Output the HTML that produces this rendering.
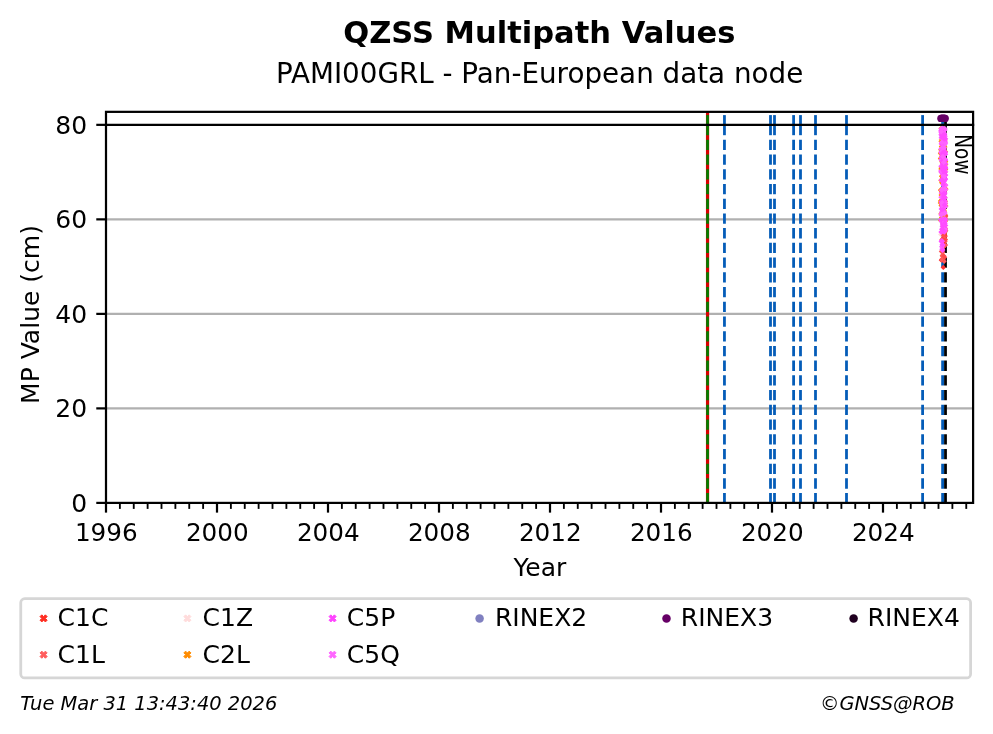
<!DOCTYPE html>
<html lang="en"><head><meta charset="utf-8"><title>QZSS Multipath Values</title>
<style>html,body{margin:0;padding:0;background:#fff}body{width:993px;height:734px;overflow:hidden}svg{display:block}text{font-family:"DejaVu Sans","Liberation Sans",sans-serif;fill:#000}</style>
</head><body>
<svg width="993" height="734" viewBox="0 0 993 734">
<rect width="993" height="734" fill="#fff"/>
<text x="539.3" y="42.8" font-size="30.56" font-weight="bold" text-anchor="middle">QZSS Multipath Values</text>
<text x="539.6" y="82.9" font-size="27.78" text-anchor="middle">PAMI00GRL - Pan-European data node</text>
<line x1="106.0" x2="973.1" y1="408.39" y2="408.39" stroke="#b0b0b0" stroke-width="2.22"/>
<line x1="106.0" x2="973.1" y1="313.88" y2="313.88" stroke="#b0b0b0" stroke-width="2.22"/>
<line x1="106.0" x2="973.1" y1="219.36" y2="219.36" stroke="#b0b0b0" stroke-width="2.22"/>
<line x1="707.55" x2="707.55" y1="111.85" y2="502.9" stroke="#d80000" stroke-width="3.2"/>
<line x1="707.55" x2="707.55" y1="115.1" y2="135.2" stroke="#008000" stroke-width="2.7"/>
<line x1="707.55" x2="707.55" y1="139.8" y2="502.9" stroke="#008000" stroke-width="2.7" stroke-dasharray="10.28 4.44"/>
<line x1="724.45" x2="724.45" y1="115.1" y2="135.2" stroke="#045cb8" stroke-width="2.78"/>
<line x1="724.45" x2="724.45" y1="139.8" y2="502.9" stroke="#045cb8" stroke-width="2.78" stroke-dasharray="10.28 4.44"/>
<line x1="770.5" x2="770.5" y1="115.1" y2="135.2" stroke="#045cb8" stroke-width="2.78"/>
<line x1="770.5" x2="770.5" y1="139.8" y2="502.9" stroke="#045cb8" stroke-width="2.78" stroke-dasharray="10.28 4.44"/>
<line x1="774.5" x2="774.5" y1="115.1" y2="135.2" stroke="#045cb8" stroke-width="2.78"/>
<line x1="774.5" x2="774.5" y1="139.8" y2="502.9" stroke="#045cb8" stroke-width="2.78" stroke-dasharray="10.28 4.44"/>
<line x1="793.6" x2="793.6" y1="115.1" y2="135.2" stroke="#045cb8" stroke-width="2.78"/>
<line x1="793.6" x2="793.6" y1="139.8" y2="502.9" stroke="#045cb8" stroke-width="2.78" stroke-dasharray="10.28 4.44"/>
<line x1="800.5" x2="800.5" y1="115.1" y2="135.2" stroke="#045cb8" stroke-width="2.78"/>
<line x1="800.5" x2="800.5" y1="139.8" y2="502.9" stroke="#045cb8" stroke-width="2.78" stroke-dasharray="10.28 4.44"/>
<line x1="815.5" x2="815.5" y1="115.1" y2="135.2" stroke="#045cb8" stroke-width="2.78"/>
<line x1="815.5" x2="815.5" y1="139.8" y2="502.9" stroke="#045cb8" stroke-width="2.78" stroke-dasharray="10.28 4.44"/>
<line x1="846.5" x2="846.5" y1="115.1" y2="135.2" stroke="#045cb8" stroke-width="2.78"/>
<line x1="846.5" x2="846.5" y1="139.8" y2="502.9" stroke="#045cb8" stroke-width="2.78" stroke-dasharray="10.28 4.44"/>
<line x1="922.6" x2="922.6" y1="115.1" y2="135.2" stroke="#045cb8" stroke-width="2.78"/>
<line x1="922.6" x2="922.6" y1="139.8" y2="502.9" stroke="#045cb8" stroke-width="2.78" stroke-dasharray="10.28 4.44"/>
<line x1="942.6" x2="942.6" y1="115.1" y2="135.2" stroke="#045cb8" stroke-width="2.78"/>
<line x1="942.6" x2="942.6" y1="139.8" y2="502.9" stroke="#045cb8" stroke-width="2.78" stroke-dasharray="10.28 4.44"/>
<line x1="945.5" x2="945.5" y1="115.1" y2="135.2" stroke="#000" stroke-width="2.78"/>
<line x1="945.5" x2="945.5" y1="139.8" y2="502.9" stroke="#000" stroke-width="2.78" stroke-dasharray="10.28 4.44"/>
<line x1="106.0" x2="974.2" y1="124.85" y2="124.85" stroke="#000" stroke-width="2.22"/>
<path d="M944.84 236.58l2.65 2.65-2.65 2.65-2.65-2.65z" fill="#ffdcdc"/>
<path d="M942.93 179.54l2.65 2.65-2.65 2.65-2.65-2.65z" fill="#ffdcdc"/>
<path d="M941.03 136.80l2.65 2.65-2.65 2.65-2.65-2.65z" fill="#ffdcdc"/>
<path d="M942.31 155.00l2.65 2.65-2.65 2.65-2.65-2.65z" fill="#ffdcdc"/>
<path d="M944.74 143.43l2.65 2.65-2.65 2.65-2.65-2.65z" fill="#ffdcdc"/>
<path d="M940.72 231.86l2.65 2.65-2.65 2.65-2.65-2.65z" fill="#ffdcdc"/>
<path d="M943.24 141.77l2.65 2.65-2.65 2.65-2.65-2.65z" fill="#ffdcdc"/>
<path d="M943.32 128.38l2.65 2.65-2.65 2.65-2.65-2.65z" fill="#ffdcdc"/>
<path d="M943.24 234.94l2.65 2.65-2.65 2.65-2.65-2.65z" fill="#ffdcdc"/>
<path d="M944.92 203.32l2.65 2.65-2.65 2.65-2.65-2.65z" fill="#ffdcdc"/>
<path d="M943.45 226.89l2.65 2.65-2.65 2.65-2.65-2.65z" fill="#ff4a4a"/>
<path d="M945.46 213.67l2.65 2.65-2.65 2.65-2.65-2.65z" fill="#ff3535"/>
<path d="M943.17 228.90l2.65 2.65-2.65 2.65-2.65-2.65z" fill="#ff4a4a"/>
<path d="M943.26 221.66l2.65 2.65-2.65 2.65-2.65-2.65z" fill="#ff5a5a"/>
<path d="M943.27 214.70l2.65 2.65-2.65 2.65-2.65-2.65z" fill="#ff5a5a"/>
<path d="M944.70 214.19l2.65 2.65-2.65 2.65-2.65-2.65z" fill="#ff3535"/>
<path d="M943.68 241.62l2.65 2.65-2.65 2.65-2.65-2.65z" fill="#ff3535"/>
<path d="M942.82 239.05l2.65 2.65-2.65 2.65-2.65-2.65z" fill="#ff3535"/>
<path d="M945.58 213.59l2.65 2.65-2.65 2.65-2.65-2.65z" fill="#ff5a5a"/>
<path d="M944.62 231.47l2.65 2.65-2.65 2.65-2.65-2.65z" fill="#ff4a4a"/>
<path d="M945.45 226.16l2.65 2.65-2.65 2.65-2.65-2.65z" fill="#ff3535"/>
<path d="M944.71 216.30l2.65 2.65-2.65 2.65-2.65-2.65z" fill="#ff3535"/>
<path d="M944.64 229.23l2.65 2.65-2.65 2.65-2.65-2.65z" fill="#ff3535"/>
<path d="M943.85 238.44l2.65 2.65-2.65 2.65-2.65-2.65z" fill="#ff5a5a"/>
<path d="M942.97 244.01l2.65 2.65-2.65 2.65-2.65-2.65z" fill="#ff5a5a"/>
<path d="M945.25 233.70l2.65 2.65-2.65 2.65-2.65-2.65z" fill="#ff5a5a"/>
<path d="M945.38 225.74l2.65 2.65-2.65 2.65-2.65-2.65z" fill="#ff4a4a"/>
<path d="M941.38 248.78l2.65 2.65-2.65 2.65-2.65-2.65z" fill="#ff5a5a"/>
<path d="M945.03 236.56l2.65 2.65-2.65 2.65-2.65-2.65z" fill="#ff4a4a"/>
<path d="M944.83 232.89l2.65 2.65-2.65 2.65-2.65-2.65z" fill="#ff3535"/>
<path d="M944.25 217.02l2.65 2.65-2.65 2.65-2.65-2.65z" fill="#ff5a5a"/>
<path d="M944.47 218.65l2.65 2.65-2.65 2.65-2.65-2.65z" fill="#ff3535"/>
<path d="M941.36 257.53l2.65 2.65-2.65 2.65-2.65-2.65z" fill="#ff4a4a"/>
<path d="M945.03 238.86l2.65 2.65-2.65 2.65-2.65-2.65z" fill="#ff5a5a"/>
<path d="M944.05 227.68l2.65 2.65-2.65 2.65-2.65-2.65z" fill="#ff5a5a"/>
<path d="M943.10 239.18l2.65 2.65-2.65 2.65-2.65-2.65z" fill="#ff3535"/>
<path d="M943.18 256.69l2.65 2.65-2.65 2.65-2.65-2.65z" fill="#ff4a4a"/>
<path d="M945.19 214.47l2.65 2.65-2.65 2.65-2.65-2.65z" fill="#ff5a5a"/>
<path d="M945.57 242.41l2.65 2.65-2.65 2.65-2.65-2.65z" fill="#ff5a5a"/>
<path d="M944.16 225.01l2.65 2.65-2.65 2.65-2.65-2.65z" fill="#ff4a4a"/>
<path d="M945.82 228.01l2.65 2.65-2.65 2.65-2.65-2.65z" fill="#ff5a5a"/>
<path d="M943.35 219.42l2.65 2.65-2.65 2.65-2.65-2.65z" fill="#ff3535"/>
<path d="M943.86 221.82l2.65 2.65-2.65 2.65-2.65-2.65z" fill="#ff4a4a"/>
<path d="M944.17 223.24l2.65 2.65-2.65 2.65-2.65-2.65z" fill="#ff5a5a"/>
<path d="M944.35 215.22l2.65 2.65-2.65 2.65-2.65-2.65z" fill="#ff4a4a"/>
<path d="M943.41 224.69l2.65 2.65-2.65 2.65-2.65-2.65z" fill="#ff5a5a"/>
<path d="M942.28 252.82l2.65 2.65-2.65 2.65-2.65-2.65z" fill="#ff5a5a"/>
<path d="M944.14 258.70l2.65 2.65-2.65 2.65-2.65-2.65z" fill="#ff5a5a"/>
<path d="M941.69 257.32l2.65 2.65-2.65 2.65-2.65-2.65z" fill="#ff3535"/>
<path d="M944.98 218.61l2.65 2.65-2.65 2.65-2.65-2.65z" fill="#ff3535"/>
<path d="M943.71 234.63l2.65 2.65-2.65 2.65-2.65-2.65z" fill="#ff5a5a"/>
<path d="M943.44 224.88l2.65 2.65-2.65 2.65-2.65-2.65z" fill="#ff4a4a"/>
<path d="M944.70 229.07l2.65 2.65-2.65 2.65-2.65-2.65z" fill="#ff3535"/>
<path d="M943.37 244.49l2.65 2.65-2.65 2.65-2.65-2.65z" fill="#ff4a4a"/>
<path d="M944.40 242.79l2.65 2.65-2.65 2.65-2.65-2.65z" fill="#ff5a5a"/>
<path d="M944.59 254.53l2.65 2.65-2.65 2.65-2.65-2.65z" fill="#ff4a4a"/>
<path d="M942.80 249.65l2.65 2.65-2.65 2.65-2.65-2.65z" fill="#ff5a5a"/>
<path d="M944.44 230.27l2.65 2.65-2.65 2.65-2.65-2.65z" fill="#ff5a5a"/>
<path d="M943.20 214.34l2.65 2.65-2.65 2.65-2.65-2.65z" fill="#ff3535"/>
<path d="M943.33 232.50l2.65 2.65-2.65 2.65-2.65-2.65z" fill="#ff4a4a"/>
<path d="M943.00 213.87l2.65 2.65-2.65 2.65-2.65-2.65z" fill="#ff3535"/>
<path d="M945.37 237.11l2.65 2.65-2.65 2.65-2.65-2.65z" fill="#ff4a4a"/>
<path d="M945.62 212.57l2.65 2.65-2.65 2.65-2.65-2.65z" fill="#ff4a4a"/>
<path d="M944.90 229.41l2.65 2.65-2.65 2.65-2.65-2.65z" fill="#ff5a5a"/>
<path d="M943.18 240.26l2.65 2.65-2.65 2.65-2.65-2.65z" fill="#ff3535"/>
<path d="M943.30 264.75l2.65 2.65-2.65 2.65-2.65-2.65z" fill="#ff3030"/>
<path d="M941.60 256.85l2.65 2.65-2.65 2.65-2.65-2.65z" fill="#ff5a5a"/>
<path d="M942.40 253.35l2.65 2.65-2.65 2.65-2.65-2.65z" fill="#ff5a5a"/>
<path d="M943.90 253.35l2.65 2.65-2.65 2.65-2.65-2.65z" fill="#ff4a4a"/>
<path d="M942.00 236.85l2.65 2.65-2.65 2.65-2.65-2.65z" fill="#ff3535"/>
<path d="M943.60 237.35l2.65 2.65-2.65 2.65-2.65-2.65z" fill="#ff4545"/>
<path d="M941.76 159.19l2.65 2.65-2.65 2.65-2.65-2.65z" fill="#ff8c00"/>
<path d="M941.24 197.68l2.65 2.65-2.65 2.65-2.65-2.65z" fill="#ff8c00"/>
<path d="M943.28 198.36l2.65 2.65-2.65 2.65-2.65-2.65z" fill="#ff8c00"/>
<path d="M942.15 145.54l2.65 2.65-2.65 2.65-2.65-2.65z" fill="#ff8c00"/>
<path d="M944.84 217.92l2.65 2.65-2.65 2.65-2.65-2.65z" fill="#ff8c00"/>
<path d="M945.07 200.93l2.65 2.65-2.65 2.65-2.65-2.65z" fill="#ff8c00"/>
<path d="M944.88 194.64l2.65 2.65-2.65 2.65-2.65-2.65z" fill="#ff8c00"/>
<path d="M941.57 173.53l2.65 2.65-2.65 2.65-2.65-2.65z" fill="#ff8c00"/>
<path d="M942.29 127.10l2.65 2.65-2.65 2.65-2.65-2.65z" fill="#ff8c00"/>
<path d="M940.46 150.89l2.65 2.65-2.65 2.65-2.65-2.65z" fill="#ff8c00"/>
<path d="M941.75 190.14l2.65 2.65-2.65 2.65-2.65-2.65z" fill="#ff8c00"/>
<path d="M945.66 166.84l2.65 2.65-2.65 2.65-2.65-2.65z" fill="#ff8c00"/>
<path d="M945.55 218.21l2.65 2.65-2.65 2.65-2.65-2.65z" fill="#ff8c00"/>
<path d="M945.65 158.99l2.65 2.65-2.65 2.65-2.65-2.65z" fill="#ff8c00"/>
<path d="M941.53 145.90l2.65 2.65-2.65 2.65-2.65-2.65z" fill="#ff8c00"/>
<path d="M941.40 143.77l2.65 2.65-2.65 2.65-2.65-2.65z" fill="#ff8c00"/>
<path d="M943.79 209.88l2.65 2.65-2.65 2.65-2.65-2.65z" fill="#ff8c00"/>
<path d="M945.01 169.90l2.65 2.65-2.65 2.65-2.65-2.65z" fill="#ff8c00"/>
<path d="M943.96 200.32l2.65 2.65-2.65 2.65-2.65-2.65z" fill="#ff8c00"/>
<path d="M940.77 187.11l2.65 2.65-2.65 2.65-2.65-2.65z" fill="#ff8c00"/>
<path d="M945.39 198.67l2.65 2.65-2.65 2.65-2.65-2.65z" fill="#ff8c00"/>
<path d="M944.50 169.76l2.65 2.65-2.65 2.65-2.65-2.65z" fill="#ff8c00"/>
<path d="M941.30 199.32l2.65 2.65-2.65 2.65-2.65-2.65z" fill="#ff8c00"/>
<path d="M942.16 200.43l2.65 2.65-2.65 2.65-2.65-2.65z" fill="#ff8c00"/>
<path d="M945.74 161.95l2.65 2.65-2.65 2.65-2.65-2.65z" fill="#ff8c00"/>
<path d="M942.55 214.30l2.65 2.65-2.65 2.65-2.65-2.65z" fill="#ff8c00"/>
<path d="M944.36 140.50l2.65 2.65-2.65 2.65-2.65-2.65z" fill="#ff8c00"/>
<path d="M941.01 138.71l2.65 2.65-2.65 2.65-2.65-2.65z" fill="#ff8c00"/>
<path d="M945.37 200.97l2.65 2.65-2.65 2.65-2.65-2.65z" fill="#ff8c00"/>
<path d="M941.12 202.87l2.65 2.65-2.65 2.65-2.65-2.65z" fill="#ff8c00"/>
<path d="M945.79 186.79l2.65 2.65-2.65 2.65-2.65-2.65z" fill="#ff8c00"/>
<path d="M942.26 176.47l2.65 2.65-2.65 2.65-2.65-2.65z" fill="#ff8c00"/>
<path d="M941.03 125.70l2.65 2.65-2.65 2.65-2.65-2.65z" fill="#ff8c00"/>
<path d="M945.74 186.07l2.65 2.65-2.65 2.65-2.65-2.65z" fill="#ff8c00"/>
<path d="M943.25 213.04l2.65 2.65-2.65 2.65-2.65-2.65z" fill="#ff8c00"/>
<path d="M942.73 207.17l2.65 2.65-2.65 2.65-2.65-2.65z" fill="#ff8c00"/>
<path d="M944.93 144.40l2.65 2.65-2.65 2.65-2.65-2.65z" fill="#ff8c00"/>
<path d="M941.71 152.18l2.65 2.65-2.65 2.65-2.65-2.65z" fill="#ff8c00"/>
<path d="M941.65 180.06l2.65 2.65-2.65 2.65-2.65-2.65z" fill="#ff8c00"/>
<path d="M941.75 164.16l2.65 2.65-2.65 2.65-2.65-2.65z" fill="#ff8c00"/>
<path d="M941.03 210.80l2.65 2.65-2.65 2.65-2.65-2.65z" fill="#ff8c00"/>
<path d="M942.28 167.88l2.65 2.65-2.65 2.65-2.65-2.65z" fill="#ff8c00"/>
<path d="M943.57 210.26l2.65 2.65-2.65 2.65-2.65-2.65z" fill="#ff8c00"/>
<path d="M942.66 211.53l2.65 2.65-2.65 2.65-2.65-2.65z" fill="#ff8c00"/>
<path d="M943.11 174.87l2.65 2.65-2.65 2.65-2.65-2.65z" fill="#ff8c00"/>
<path d="M943.23 126.13l2.65 2.65-2.65 2.65-2.65-2.65z" fill="#ff8c00"/>
<path d="M942.76 141.75l2.65 2.65-2.65 2.65-2.65-2.65z" fill="#ff8c00"/>
<path d="M940.32 200.27l2.65 2.65-2.65 2.65-2.65-2.65z" fill="#ff8c00"/>
<path d="M941.27 169.33l2.65 2.65-2.65 2.65-2.65-2.65z" fill="#ff8c00"/>
<path d="M944.36 177.22l2.65 2.65-2.65 2.65-2.65-2.65z" fill="#ff8c00"/>
<path d="M942.13 173.59l2.65 2.65-2.65 2.65-2.65-2.65z" fill="#ff8c00"/>
<path d="M943.41 198.86l2.65 2.65-2.65 2.65-2.65-2.65z" fill="#ff8c00"/>
<path d="M940.89 177.58l2.65 2.65-2.65 2.65-2.65-2.65z" fill="#ff8c00"/>
<path d="M941.69 150.66l2.65 2.65-2.65 2.65-2.65-2.65z" fill="#ff8c00"/>
<path d="M944.62 172.58l2.65 2.65-2.65 2.65-2.65-2.65z" fill="#ff8c00"/>
<path d="M943.45 196.55l2.65 2.65-2.65 2.65-2.65-2.65z" fill="#ff8c00"/>
<path d="M945.41 166.46l2.65 2.65-2.65 2.65-2.65-2.65z" fill="#ff8c00"/>
<path d="M943.73 172.38l2.65 2.65-2.65 2.65-2.65-2.65z" fill="#ff8c00"/>
<path d="M943.17 190.16l2.65 2.65-2.65 2.65-2.65-2.65z" fill="#ff8c00"/>
<path d="M942.83 175.01l2.65 2.65-2.65 2.65-2.65-2.65z" fill="#ff8c00"/>
<path d="M942.98 213.79l2.65 2.65-2.65 2.65-2.65-2.65z" fill="#ff8c00"/>
<path d="M944.22 207.62l2.65 2.65-2.65 2.65-2.65-2.65z" fill="#ff8c00"/>
<path d="M945.58 149.01l2.65 2.65-2.65 2.65-2.65-2.65z" fill="#ff8c00"/>
<path d="M943.43 213.96l2.65 2.65-2.65 2.65-2.65-2.65z" fill="#ff8c00"/>
<path d="M945.00 137.38l2.65 2.65-2.65 2.65-2.65-2.65z" fill="#ff8c00"/>
<path d="M940.98 166.35l2.65 2.65-2.65 2.65-2.65-2.65z" fill="#ff8c00"/>
<path d="M940.71 147.21l2.65 2.65-2.65 2.65-2.65-2.65z" fill="#ff8c00"/>
<path d="M940.71 187.95l2.65 2.65-2.65 2.65-2.65-2.65z" fill="#ff8c00"/>
<path d="M944.69 209.57l2.65 2.65-2.65 2.65-2.65-2.65z" fill="#ff8c00"/>
<path d="M941.16 192.38l2.65 2.65-2.65 2.65-2.65-2.65z" fill="#ff8c00"/>
<path d="M944.00 137.93l2.65 2.65-2.65 2.65-2.65-2.65z" fill="#ff8c00"/>
<path d="M945.24 216.27l2.65 2.65-2.65 2.65-2.65-2.65z" fill="#ff8c00"/>
<path d="M941.53 214.84l2.65 2.65-2.65 2.65-2.65-2.65z" fill="#ff8c00"/>
<path d="M942.53 170.64l2.65 2.65-2.65 2.65-2.65-2.65z" fill="#ff8c00"/>
<path d="M945.84 203.43l2.65 2.65-2.65 2.65-2.65-2.65z" fill="#ff8c00"/>
<path d="M941.20 165.34l2.65 2.65-2.65 2.65-2.65-2.65z" fill="#ff8c00"/>
<path d="M943.19 156.57l2.65 2.65-2.65 2.65-2.65-2.65z" fill="#ff8c00"/>
<path d="M941.40 154.61l2.65 2.65-2.65 2.65-2.65-2.65z" fill="#ff8c00"/>
<path d="M944.34 126.20l2.65 2.65-2.65 2.65-2.65-2.65z" fill="#ff8c00"/>
<path d="M943.40 166.19l2.65 2.65-2.65 2.65-2.65-2.65z" fill="#ff8c00"/>
<path d="M940.40 155.84l2.65 2.65-2.65 2.65-2.65-2.65z" fill="#ff8c00"/>
<path d="M943.79 173.01l2.65 2.65-2.65 2.65-2.65-2.65z" fill="#ff8c00"/>
<path d="M940.66 217.93l2.65 2.65-2.65 2.65-2.65-2.65z" fill="#ff8c00"/>
<path d="M944.71 216.66l2.65 2.65-2.65 2.65-2.65-2.65z" fill="#ff8c00"/>
<path d="M940.89 149.58l2.65 2.65-2.65 2.65-2.65-2.65z" fill="#ff8c00"/>
<path d="M940.52 198.35l2.65 2.65-2.65 2.65-2.65-2.65z" fill="#ff8c00"/>
<path d="M941.81 136.66l2.65 2.65-2.65 2.65-2.65-2.65z" fill="#ff8c00"/>
<path d="M942.66 210.93l2.65 2.65-2.65 2.65-2.65-2.65z" fill="#ff8c00"/>
<path d="M944.89 148.92l2.65 2.65-2.65 2.65-2.65-2.65z" fill="#ff8c00"/>
<path d="M941.14 211.67l2.65 2.65-2.65 2.65-2.65-2.65z" fill="#ff8c00"/>
<path d="M943.61 198.09l2.9 2.9-2.9 2.9-2.9-2.9z" fill="#ff4cff"/>
<path d="M942.33 208.36l2.9 2.9-2.9 2.9-2.9-2.9z" fill="#ff4cff"/>
<path d="M942.97 133.09l2.9 2.9-2.9 2.9-2.9-2.9z" fill="#ff4cff"/>
<path d="M943.89 208.57l2.9 2.9-2.9 2.9-2.9-2.9z" fill="#ff4cff"/>
<path d="M943.78 148.62l2.9 2.9-2.9 2.9-2.9-2.9z" fill="#ff62ff"/>
<path d="M944.90 172.57l2.9 2.9-2.9 2.9-2.9-2.9z" fill="#ff62ff"/>
<path d="M945.47 168.84l2.9 2.9-2.9 2.9-2.9-2.9z" fill="#ff62ff"/>
<path d="M943.84 130.07l2.9 2.9-2.9 2.9-2.9-2.9z" fill="#ff4cff"/>
<path d="M945.23 225.91l2.9 2.9-2.9 2.9-2.9-2.9z" fill="#ff62ff"/>
<path d="M941.32 146.48l2.9 2.9-2.9 2.9-2.9-2.9z" fill="#ff62ff"/>
<path d="M943.87 180.57l2.9 2.9-2.9 2.9-2.9-2.9z" fill="#ff4cff"/>
<path d="M942.38 177.36l2.9 2.9-2.9 2.9-2.9-2.9z" fill="#ff4cff"/>
<path d="M942.29 208.78l2.9 2.9-2.9 2.9-2.9-2.9z" fill="#ff62ff"/>
<path d="M941.26 127.51l2.9 2.9-2.9 2.9-2.9-2.9z" fill="#ff4cff"/>
<path d="M943.36 151.03l2.9 2.9-2.9 2.9-2.9-2.9z" fill="#ff62ff"/>
<path d="M941.57 210.36l2.9 2.9-2.9 2.9-2.9-2.9z" fill="#ff62ff"/>
<path d="M943.99 182.10l2.9 2.9-2.9 2.9-2.9-2.9z" fill="#ff62ff"/>
<path d="M945.37 157.46l2.9 2.9-2.9 2.9-2.9-2.9z" fill="#ff4cff"/>
<path d="M945.42 161.07l2.9 2.9-2.9 2.9-2.9-2.9z" fill="#ff4cff"/>
<path d="M942.88 161.57l2.9 2.9-2.9 2.9-2.9-2.9z" fill="#ff4cff"/>
<path d="M944.78 127.08l2.9 2.9-2.9 2.9-2.9-2.9z" fill="#ff62ff"/>
<path d="M943.00 131.33l2.9 2.9-2.9 2.9-2.9-2.9z" fill="#ff62ff"/>
<path d="M944.93 195.00l2.9 2.9-2.9 2.9-2.9-2.9z" fill="#ff62ff"/>
<path d="M943.73 197.29l2.9 2.9-2.9 2.9-2.9-2.9z" fill="#ff4cff"/>
<path d="M943.12 141.90l2.9 2.9-2.9 2.9-2.9-2.9z" fill="#ff62ff"/>
<path d="M941.12 163.29l2.9 2.9-2.9 2.9-2.9-2.9z" fill="#ff62ff"/>
<path d="M945.38 182.22l2.9 2.9-2.9 2.9-2.9-2.9z" fill="#ff4cff"/>
<path d="M941.25 216.93l2.9 2.9-2.9 2.9-2.9-2.9z" fill="#ff4cff"/>
<path d="M942.67 125.71l2.9 2.9-2.9 2.9-2.9-2.9z" fill="#ff62ff"/>
<path d="M941.47 154.47l2.9 2.9-2.9 2.9-2.9-2.9z" fill="#ff4cff"/>
<path d="M942.19 205.94l2.9 2.9-2.9 2.9-2.9-2.9z" fill="#ff4cff"/>
<path d="M942.26 134.89l2.9 2.9-2.9 2.9-2.9-2.9z" fill="#ff62ff"/>
<path d="M943.68 166.38l2.9 2.9-2.9 2.9-2.9-2.9z" fill="#ff62ff"/>
<path d="M942.44 149.70l2.9 2.9-2.9 2.9-2.9-2.9z" fill="#ff4cff"/>
<path d="M943.99 199.71l2.9 2.9-2.9 2.9-2.9-2.9z" fill="#ff62ff"/>
<path d="M944.46 200.19l2.9 2.9-2.9 2.9-2.9-2.9z" fill="#ff62ff"/>
<path d="M941.76 200.55l2.9 2.9-2.9 2.9-2.9-2.9z" fill="#ff4cff"/>
<path d="M941.29 212.05l2.9 2.9-2.9 2.9-2.9-2.9z" fill="#ff62ff"/>
<path d="M944.33 209.66l2.9 2.9-2.9 2.9-2.9-2.9z" fill="#ff4cff"/>
<path d="M945.10 203.52l2.9 2.9-2.9 2.9-2.9-2.9z" fill="#ff4cff"/>
<path d="M944.74 186.05l2.9 2.9-2.9 2.9-2.9-2.9z" fill="#ff4cff"/>
<path d="M941.47 129.93l2.9 2.9-2.9 2.9-2.9-2.9z" fill="#ff62ff"/>
<path d="M945.32 164.58l2.9 2.9-2.9 2.9-2.9-2.9z" fill="#ff62ff"/>
<path d="M943.56 190.57l2.9 2.9-2.9 2.9-2.9-2.9z" fill="#ff4cff"/>
<path d="M943.25 125.94l2.9 2.9-2.9 2.9-2.9-2.9z" fill="#ff4cff"/>
<path d="M944.39 177.66l2.9 2.9-2.9 2.9-2.9-2.9z" fill="#ff4cff"/>
<path d="M944.00 132.44l2.9 2.9-2.9 2.9-2.9-2.9z" fill="#ff62ff"/>
<path d="M942.21 133.31l2.9 2.9-2.9 2.9-2.9-2.9z" fill="#ff62ff"/>
<path d="M942.13 203.89l2.9 2.9-2.9 2.9-2.9-2.9z" fill="#ff4cff"/>
<path d="M944.36 226.59l2.9 2.9-2.9 2.9-2.9-2.9z" fill="#ff62ff"/>
<path d="M944.82 133.54l2.9 2.9-2.9 2.9-2.9-2.9z" fill="#ff62ff"/>
<path d="M944.47 189.46l2.9 2.9-2.9 2.9-2.9-2.9z" fill="#ff4cff"/>
<path d="M941.44 140.86l2.9 2.9-2.9 2.9-2.9-2.9z" fill="#ff62ff"/>
<path d="M943.97 197.31l2.9 2.9-2.9 2.9-2.9-2.9z" fill="#ff4cff"/>
<path d="M941.15 131.88l2.9 2.9-2.9 2.9-2.9-2.9z" fill="#ff62ff"/>
<path d="M945.38 135.90l2.9 2.9-2.9 2.9-2.9-2.9z" fill="#ff4cff"/>
<path d="M944.07 155.70l2.9 2.9-2.9 2.9-2.9-2.9z" fill="#ff62ff"/>
<path d="M943.14 173.87l2.9 2.9-2.9 2.9-2.9-2.9z" fill="#ff4cff"/>
<path d="M945.47 182.43l2.9 2.9-2.9 2.9-2.9-2.9z" fill="#ff62ff"/>
<path d="M945.40 222.50l2.9 2.9-2.9 2.9-2.9-2.9z" fill="#ff4cff"/>
<path d="M942.37 133.51l2.9 2.9-2.9 2.9-2.9-2.9z" fill="#ff62ff"/>
<path d="M945.47 165.64l2.9 2.9-2.9 2.9-2.9-2.9z" fill="#ff4cff"/>
<path d="M941.43 134.95l2.9 2.9-2.9 2.9-2.9-2.9z" fill="#ff62ff"/>
<path d="M945.29 139.32l2.9 2.9-2.9 2.9-2.9-2.9z" fill="#ff62ff"/>
<path d="M945.00 198.40l2.9 2.9-2.9 2.9-2.9-2.9z" fill="#ff4cff"/>
<path d="M943.29 216.28l2.9 2.9-2.9 2.9-2.9-2.9z" fill="#ff62ff"/>
<path d="M941.21 125.97l2.9 2.9-2.9 2.9-2.9-2.9z" fill="#ff62ff"/>
<path d="M944.10 167.56l2.9 2.9-2.9 2.9-2.9-2.9z" fill="#ff4cff"/>
<path d="M942.93 164.53l2.9 2.9-2.9 2.9-2.9-2.9z" fill="#ff4cff"/>
<path d="M944.80 125.78l2.9 2.9-2.9 2.9-2.9-2.9z" fill="#ff62ff"/>
<path d="M944.79 138.02l2.9 2.9-2.9 2.9-2.9-2.9z" fill="#ff4cff"/>
<path d="M944.24 218.91l2.9 2.9-2.9 2.9-2.9-2.9z" fill="#ff62ff"/>
<path d="M942.21 132.33l2.9 2.9-2.9 2.9-2.9-2.9z" fill="#ff62ff"/>
<path d="M945.49 186.58l2.9 2.9-2.9 2.9-2.9-2.9z" fill="#ff62ff"/>
<path d="M945.17 203.81l2.9 2.9-2.9 2.9-2.9-2.9z" fill="#ff4cff"/>
<path d="M942.33 130.94l2.9 2.9-2.9 2.9-2.9-2.9z" fill="#ff62ff"/>
<path d="M943.89 141.01l2.9 2.9-2.9 2.9-2.9-2.9z" fill="#ff62ff"/>
<path d="M943.02 158.26l2.9 2.9-2.9 2.9-2.9-2.9z" fill="#ff62ff"/>
<path d="M944.55 169.87l2.9 2.9-2.9 2.9-2.9-2.9z" fill="#ff4cff"/>
<path d="M944.67 190.90l2.9 2.9-2.9 2.9-2.9-2.9z" fill="#ff4cff"/>
<path d="M944.27 130.72l2.9 2.9-2.9 2.9-2.9-2.9z" fill="#ff62ff"/>
<path d="M943.08 203.50l2.9 2.9-2.9 2.9-2.9-2.9z" fill="#ff62ff"/>
<path d="M943.24 219.98l2.9 2.9-2.9 2.9-2.9-2.9z" fill="#ff4cff"/>
<path d="M941.85 168.54l2.9 2.9-2.9 2.9-2.9-2.9z" fill="#ff62ff"/>
<path d="M942.41 202.09l2.9 2.9-2.9 2.9-2.9-2.9z" fill="#ff62ff"/>
<path d="M942.89 150.30l2.9 2.9-2.9 2.9-2.9-2.9z" fill="#ff62ff"/>
<path d="M943.55 166.42l2.9 2.9-2.9 2.9-2.9-2.9z" fill="#ff4cff"/>
<path d="M943.93 133.38l2.9 2.9-2.9 2.9-2.9-2.9z" fill="#ff62ff"/>
<path d="M943.52 172.48l2.9 2.9-2.9 2.9-2.9-2.9z" fill="#ff62ff"/>
<path d="M945.48 172.17l2.9 2.9-2.9 2.9-2.9-2.9z" fill="#ff4cff"/>
<path d="M943.51 150.86l2.9 2.9-2.9 2.9-2.9-2.9z" fill="#ff4cff"/>
<path d="M942.60 135.03l2.9 2.9-2.9 2.9-2.9-2.9z" fill="#ff4cff"/>
<path d="M942.72 209.37l2.9 2.9-2.9 2.9-2.9-2.9z" fill="#ff4cff"/>
<path d="M945.00 203.19l2.9 2.9-2.9 2.9-2.9-2.9z" fill="#ff62ff"/>
<path d="M942.78 202.79l2.9 2.9-2.9 2.9-2.9-2.9z" fill="#ff4cff"/>
<path d="M942.76 160.60l2.9 2.9-2.9 2.9-2.9-2.9z" fill="#ff4cff"/>
<path d="M943.29 185.04l2.9 2.9-2.9 2.9-2.9-2.9z" fill="#ff62ff"/>
<path d="M941.65 177.70l2.9 2.9-2.9 2.9-2.9-2.9z" fill="#ff4cff"/>
<path d="M941.51 218.42l2.9 2.9-2.9 2.9-2.9-2.9z" fill="#ff62ff"/>
<path d="M942.86 171.75l2.9 2.9-2.9 2.9-2.9-2.9z" fill="#ff62ff"/>
<path d="M944.83 215.94l2.9 2.9-2.9 2.9-2.9-2.9z" fill="#ff4cff"/>
<path d="M941.66 169.61l2.9 2.9-2.9 2.9-2.9-2.9z" fill="#ff62ff"/>
<path d="M945.36 176.30l2.9 2.9-2.9 2.9-2.9-2.9z" fill="#ff4cff"/>
<path d="M942.82 221.53l2.9 2.9-2.9 2.9-2.9-2.9z" fill="#ff62ff"/>
<path d="M945.38 151.32l2.9 2.9-2.9 2.9-2.9-2.9z" fill="#ff4cff"/>
<path d="M942.08 141.34l2.9 2.9-2.9 2.9-2.9-2.9z" fill="#ff4cff"/>
<path d="M945.24 200.30l2.9 2.9-2.9 2.9-2.9-2.9z" fill="#ff62ff"/>
<path d="M941.47 206.01l2.9 2.9-2.9 2.9-2.9-2.9z" fill="#ff4cff"/>
<path d="M944.54 149.67l2.9 2.9-2.9 2.9-2.9-2.9z" fill="#ff4cff"/>
<path d="M943.94 157.04l2.9 2.9-2.9 2.9-2.9-2.9z" fill="#ff4cff"/>
<path d="M943.86 180.27l2.9 2.9-2.9 2.9-2.9-2.9z" fill="#ff62ff"/>
<path d="M944.17 137.21l2.9 2.9-2.9 2.9-2.9-2.9z" fill="#ff4cff"/>
<path d="M942.42 223.26l2.9 2.9-2.9 2.9-2.9-2.9z" fill="#ff4cff"/>
<path d="M942.81 148.74l2.9 2.9-2.9 2.9-2.9-2.9z" fill="#ff4cff"/>
<path d="M941.15 156.81l2.9 2.9-2.9 2.9-2.9-2.9z" fill="#ff62ff"/>
<path d="M942.33 158.34l2.9 2.9-2.9 2.9-2.9-2.9z" fill="#ff4cff"/>
<path d="M943.19 149.90l2.9 2.9-2.9 2.9-2.9-2.9z" fill="#ff4cff"/>
<path d="M941.23 168.22l2.9 2.9-2.9 2.9-2.9-2.9z" fill="#ff62ff"/>
<path d="M941.34 145.69l2.9 2.9-2.9 2.9-2.9-2.9z" fill="#ff62ff"/>
<path d="M941.46 149.18l2.9 2.9-2.9 2.9-2.9-2.9z" fill="#ff62ff"/>
<path d="M945.17 149.07l2.9 2.9-2.9 2.9-2.9-2.9z" fill="#ff4cff"/>
<path d="M944.16 199.95l2.9 2.9-2.9 2.9-2.9-2.9z" fill="#ff62ff"/>
<path d="M944.10 146.10l2.9 2.9-2.9 2.9-2.9-2.9z" fill="#ff62ff"/>
<path d="M944.35 177.85l2.9 2.9-2.9 2.9-2.9-2.9z" fill="#ff4cff"/>
<path d="M943.28 146.34l2.9 2.9-2.9 2.9-2.9-2.9z" fill="#ff4cff"/>
<path d="M942.12 148.52l2.9 2.9-2.9 2.9-2.9-2.9z" fill="#ff62ff"/>
<path d="M941.58 190.14l2.9 2.9-2.9 2.9-2.9-2.9z" fill="#ff4cff"/>
<path d="M945.04 175.80l2.9 2.9-2.9 2.9-2.9-2.9z" fill="#ff4cff"/>
<path d="M945.27 140.75l2.9 2.9-2.9 2.9-2.9-2.9z" fill="#ff62ff"/>
<path d="M941.34 128.05l2.9 2.9-2.9 2.9-2.9-2.9z" fill="#ff4cff"/>
<path d="M942.93 199.07l2.9 2.9-2.9 2.9-2.9-2.9z" fill="#ff4cff"/>
<path d="M942.83 218.56l2.9 2.9-2.9 2.9-2.9-2.9z" fill="#ff62ff"/>
<path d="M944.32 228.84l2.9 2.9-2.9 2.9-2.9-2.9z" fill="#ff4cff"/>
<path d="M942.55 144.80l2.9 2.9-2.9 2.9-2.9-2.9z" fill="#ff62ff"/>
<path d="M941.24 194.37l2.9 2.9-2.9 2.9-2.9-2.9z" fill="#ff62ff"/>
<path d="M944.79 227.55l2.9 2.9-2.9 2.9-2.9-2.9z" fill="#ff62ff"/>
<path d="M941.84 125.90l2.9 2.9-2.9 2.9-2.9-2.9z" fill="#ff62ff"/>
<path d="M941.46 169.09l2.9 2.9-2.9 2.9-2.9-2.9z" fill="#ff4cff"/>
<path d="M943.57 204.14l2.9 2.9-2.9 2.9-2.9-2.9z" fill="#ff62ff"/>
<path d="M942.67 210.63l2.9 2.9-2.9 2.9-2.9-2.9z" fill="#ff62ff"/>
<path d="M941.49 198.59l2.9 2.9-2.9 2.9-2.9-2.9z" fill="#ff4cff"/>
<path d="M942.74 220.77l2.9 2.9-2.9 2.9-2.9-2.9z" fill="#ff4cff"/>
<path d="M942.52 201.91l2.9 2.9-2.9 2.9-2.9-2.9z" fill="#ff62ff"/>
<path d="M941.23 168.12l2.9 2.9-2.9 2.9-2.9-2.9z" fill="#ff62ff"/>
<path d="M941.28 129.21l2.9 2.9-2.9 2.9-2.9-2.9z" fill="#ff4cff"/>
<path d="M944.63 132.02l2.9 2.9-2.9 2.9-2.9-2.9z" fill="#ff4cff"/>
<path d="M944.39 218.60l2.9 2.9-2.9 2.9-2.9-2.9z" fill="#ff62ff"/>
<path d="M942.70 160.27l2.9 2.9-2.9 2.9-2.9-2.9z" fill="#ff4cff"/>
<path d="M942.25 199.77l2.9 2.9-2.9 2.9-2.9-2.9z" fill="#ff62ff"/>
<path d="M945.17 156.38l2.9 2.9-2.9 2.9-2.9-2.9z" fill="#ff4cff"/>
<path d="M941.21 149.81l2.9 2.9-2.9 2.9-2.9-2.9z" fill="#ff62ff"/>
<path d="M944.25 173.80l2.9 2.9-2.9 2.9-2.9-2.9z" fill="#ff62ff"/>
<path d="M944.58 220.15l2.9 2.9-2.9 2.9-2.9-2.9z" fill="#ff62ff"/>
<path d="M941.68 176.99l2.9 2.9-2.9 2.9-2.9-2.9z" fill="#ff4cff"/>
<path d="M944.63 202.03l2.9 2.9-2.9 2.9-2.9-2.9z" fill="#ff4cff"/>
<path d="M943.77 159.53l2.9 2.9-2.9 2.9-2.9-2.9z" fill="#ff62ff"/>
<path d="M943.13 206.73l2.9 2.9-2.9 2.9-2.9-2.9z" fill="#ff4cff"/>
<path d="M943.35 166.14l2.9 2.9-2.9 2.9-2.9-2.9z" fill="#ff4cff"/>
<path d="M942.19 132.30l2.9 2.9-2.9 2.9-2.9-2.9z" fill="#ff4cff"/>
<path d="M943.22 181.97l2.9 2.9-2.9 2.9-2.9-2.9z" fill="#ff4cff"/>
<path d="M945.41 217.04l2.9 2.9-2.9 2.9-2.9-2.9z" fill="#ff4cff"/>
<path d="M942.27 134.30l2.9 2.9-2.9 2.9-2.9-2.9z" fill="#ff4cff"/>
<path d="M942.95 227.90l2.9 2.9-2.9 2.9-2.9-2.9z" fill="#ff62ff"/>
<path d="M941.86 139.36l2.9 2.9-2.9 2.9-2.9-2.9z" fill="#ff62ff"/>
<path d="M943.83 195.37l2.9 2.9-2.9 2.9-2.9-2.9z" fill="#ff4cff"/>
<path d="M944.53 156.02l2.9 2.9-2.9 2.9-2.9-2.9z" fill="#ff62ff"/>
<path d="M943.59 164.20l2.9 2.9-2.9 2.9-2.9-2.9z" fill="#ff62ff"/>
<path d="M941.98 151.21l2.9 2.9-2.9 2.9-2.9-2.9z" fill="#ff4cff"/>
<path d="M942.14 154.72l2.9 2.9-2.9 2.9-2.9-2.9z" fill="#ff4cff"/>
<path d="M942.54 166.59l2.9 2.9-2.9 2.9-2.9-2.9z" fill="#ff4cff"/>
<path d="M943.33 149.55l2.9 2.9-2.9 2.9-2.9-2.9z" fill="#ff4cff"/>
<path d="M943.97 228.16l2.9 2.9-2.9 2.9-2.9-2.9z" fill="#ff4cff"/>
<path d="M941.12 216.97l2.9 2.9-2.9 2.9-2.9-2.9z" fill="#ff4cff"/>
<path d="M944.80 220.24l2.9 2.9-2.9 2.9-2.9-2.9z" fill="#ff4cff"/>
<path d="M944.96 149.70l2.9 2.9-2.9 2.9-2.9-2.9z" fill="#ff4cff"/>
<path d="M941.93 226.30l2.9 2.9-2.9 2.9-2.9-2.9z" fill="#ff4cff"/>
<path d="M945.19 164.13l2.9 2.9-2.9 2.9-2.9-2.9z" fill="#ff4cff"/>
<path d="M943.08 152.50l2.9 2.9-2.9 2.9-2.9-2.9z" fill="#ff4cff"/>
<path d="M941.57 187.30l2.9 2.9-2.9 2.9-2.9-2.9z" fill="#ff62ff"/>
<path d="M942.06 163.76l2.9 2.9-2.9 2.9-2.9-2.9z" fill="#ff4cff"/>
<path d="M941.29 229.09l2.9 2.9-2.9 2.9-2.9-2.9z" fill="#ff4cff"/>
<path d="M943.74 193.05l2.9 2.9-2.9 2.9-2.9-2.9z" fill="#ff4cff"/>
<path d="M944.68 210.35l2.9 2.9-2.9 2.9-2.9-2.9z" fill="#ff62ff"/>
<path d="M944.08 144.76l2.9 2.9-2.9 2.9-2.9-2.9z" fill="#ff62ff"/>
<path d="M941.44 128.86l2.9 2.9-2.9 2.9-2.9-2.9z" fill="#ff62ff"/>
<path d="M943.51 132.15l2.9 2.9-2.9 2.9-2.9-2.9z" fill="#ff4cff"/>
<path d="M944.60 194.33l2.9 2.9-2.9 2.9-2.9-2.9z" fill="#ff4cff"/>
<path d="M943.91 135.03l2.9 2.9-2.9 2.9-2.9-2.9z" fill="#ff4cff"/>
<path d="M942.85 153.67l2.9 2.9-2.9 2.9-2.9-2.9z" fill="#ff62ff"/>
<path d="M944.04 168.85l2.9 2.9-2.9 2.9-2.9-2.9z" fill="#ff4cff"/>
<path d="M941.89 243.77l2.9 2.9-2.9 2.9-2.9-2.9z" fill="#ff62ff"/>
<path d="M942.11 238.28l2.9 2.9-2.9 2.9-2.9-2.9z" fill="#ff62ff"/>
<path d="M942.62 242.01l2.9 2.9-2.9 2.9-2.9-2.9z" fill="#ff62ff"/>
<path d="M941.65 238.16l2.9 2.9-2.9 2.9-2.9-2.9z" fill="#ff4cff"/>
<path d="M942.13 246.30l2.9 2.9-2.9 2.9-2.9-2.9z" fill="#ff62ff"/>
<path d="M942.47 241.75l2.9 2.9-2.9 2.9-2.9-2.9z" fill="#ff4cff"/>
<path d="M941.49 238.62l2.9 2.9-2.9 2.9-2.9-2.9z" fill="#ff4cff"/>
<path d="M942.61 247.20l2.9 2.9-2.9 2.9-2.9-2.9z" fill="#ff4cff"/>
<circle cx="940.90" cy="118.4" r="3.6" fill="#660066"/>
<circle cx="941.29" cy="118.4" r="3.6" fill="#660066"/>
<circle cx="941.68" cy="118.4" r="3.6" fill="#660066"/>
<circle cx="942.07" cy="118.4" r="3.6" fill="#660066"/>
<circle cx="942.46" cy="118.4" r="3.6" fill="#660066"/>
<circle cx="942.85" cy="118.4" r="3.6" fill="#660066"/>
<circle cx="943.24" cy="118.4" r="3.6" fill="#660066"/>
<circle cx="943.63" cy="118.4" r="3.6" fill="#660066"/>
<circle cx="944.02" cy="118.4" r="3.6" fill="#660066"/>
<circle cx="944.41" cy="118.4" r="3.6" fill="#660066"/>
<circle cx="944.80" cy="118.4" r="3.6" fill="#660066"/>
<circle cx="945.19" cy="118.4" r="3.6" fill="#660066"/>
<rect x="106.0" y="111.85" width="867.1" height="391.04999999999995" fill="none" stroke="#000" stroke-width="2.22"/>
<line x1="96.28" x2="106.0" y1="502.90" y2="502.90" stroke="#000" stroke-width="2.22"/>
<text x="87.1" y="512.00" font-size="25" text-anchor="end">0</text>
<line x1="96.28" x2="106.0" y1="408.39" y2="408.39" stroke="#000" stroke-width="2.22"/>
<text x="87.1" y="417.49" font-size="25" text-anchor="end">20</text>
<line x1="96.28" x2="106.0" y1="313.88" y2="313.88" stroke="#000" stroke-width="2.22"/>
<text x="87.1" y="322.98" font-size="25" text-anchor="end">40</text>
<line x1="96.28" x2="106.0" y1="219.36" y2="219.36" stroke="#000" stroke-width="2.22"/>
<text x="87.1" y="228.46" font-size="25" text-anchor="end">60</text>
<line x1="96.28" x2="106.0" y1="124.85" y2="124.85" stroke="#000" stroke-width="2.22"/>
<text x="87.1" y="133.95" font-size="25" text-anchor="end">80</text>
<line x1="106.00" x2="106.00" y1="502.9" y2="512.62" stroke="#000" stroke-width="2.22"/>
<text x="106.30" y="540.9" font-size="24.7" text-anchor="middle">1996</text>
<line x1="119.88" x2="119.88" y1="502.9" y2="508.9" stroke="#000" stroke-width="1.85"/>
<line x1="133.75" x2="133.75" y1="502.9" y2="508.9" stroke="#000" stroke-width="1.85"/>
<line x1="147.62" x2="147.62" y1="502.9" y2="508.9" stroke="#000" stroke-width="1.85"/>
<line x1="161.50" x2="161.50" y1="502.9" y2="508.9" stroke="#000" stroke-width="1.85"/>
<line x1="175.38" x2="175.38" y1="502.9" y2="508.9" stroke="#000" stroke-width="1.85"/>
<line x1="189.25" x2="189.25" y1="502.9" y2="508.9" stroke="#000" stroke-width="1.85"/>
<line x1="203.12" x2="203.12" y1="502.9" y2="508.9" stroke="#000" stroke-width="1.85"/>
<line x1="217.00" x2="217.00" y1="502.9" y2="512.62" stroke="#000" stroke-width="2.22"/>
<text x="217.30" y="540.9" font-size="24.7" text-anchor="middle">2000</text>
<line x1="230.88" x2="230.88" y1="502.9" y2="508.9" stroke="#000" stroke-width="1.85"/>
<line x1="244.75" x2="244.75" y1="502.9" y2="508.9" stroke="#000" stroke-width="1.85"/>
<line x1="258.62" x2="258.62" y1="502.9" y2="508.9" stroke="#000" stroke-width="1.85"/>
<line x1="272.50" x2="272.50" y1="502.9" y2="508.9" stroke="#000" stroke-width="1.85"/>
<line x1="286.38" x2="286.38" y1="502.9" y2="508.9" stroke="#000" stroke-width="1.85"/>
<line x1="300.25" x2="300.25" y1="502.9" y2="508.9" stroke="#000" stroke-width="1.85"/>
<line x1="314.12" x2="314.12" y1="502.9" y2="508.9" stroke="#000" stroke-width="1.85"/>
<line x1="328.00" x2="328.00" y1="502.9" y2="512.62" stroke="#000" stroke-width="2.22"/>
<text x="328.30" y="540.9" font-size="24.7" text-anchor="middle">2004</text>
<line x1="341.88" x2="341.88" y1="502.9" y2="508.9" stroke="#000" stroke-width="1.85"/>
<line x1="355.75" x2="355.75" y1="502.9" y2="508.9" stroke="#000" stroke-width="1.85"/>
<line x1="369.62" x2="369.62" y1="502.9" y2="508.9" stroke="#000" stroke-width="1.85"/>
<line x1="383.50" x2="383.50" y1="502.9" y2="508.9" stroke="#000" stroke-width="1.85"/>
<line x1="397.38" x2="397.38" y1="502.9" y2="508.9" stroke="#000" stroke-width="1.85"/>
<line x1="411.25" x2="411.25" y1="502.9" y2="508.9" stroke="#000" stroke-width="1.85"/>
<line x1="425.12" x2="425.12" y1="502.9" y2="508.9" stroke="#000" stroke-width="1.85"/>
<line x1="439.00" x2="439.00" y1="502.9" y2="512.62" stroke="#000" stroke-width="2.22"/>
<text x="439.30" y="540.9" font-size="24.7" text-anchor="middle">2008</text>
<line x1="452.88" x2="452.88" y1="502.9" y2="508.9" stroke="#000" stroke-width="1.85"/>
<line x1="466.75" x2="466.75" y1="502.9" y2="508.9" stroke="#000" stroke-width="1.85"/>
<line x1="480.62" x2="480.62" y1="502.9" y2="508.9" stroke="#000" stroke-width="1.85"/>
<line x1="494.50" x2="494.50" y1="502.9" y2="508.9" stroke="#000" stroke-width="1.85"/>
<line x1="508.38" x2="508.38" y1="502.9" y2="508.9" stroke="#000" stroke-width="1.85"/>
<line x1="522.25" x2="522.25" y1="502.9" y2="508.9" stroke="#000" stroke-width="1.85"/>
<line x1="536.12" x2="536.12" y1="502.9" y2="508.9" stroke="#000" stroke-width="1.85"/>
<line x1="550.00" x2="550.00" y1="502.9" y2="512.62" stroke="#000" stroke-width="2.22"/>
<text x="550.30" y="540.9" font-size="24.7" text-anchor="middle">2012</text>
<line x1="563.88" x2="563.88" y1="502.9" y2="508.9" stroke="#000" stroke-width="1.85"/>
<line x1="577.75" x2="577.75" y1="502.9" y2="508.9" stroke="#000" stroke-width="1.85"/>
<line x1="591.62" x2="591.62" y1="502.9" y2="508.9" stroke="#000" stroke-width="1.85"/>
<line x1="605.50" x2="605.50" y1="502.9" y2="508.9" stroke="#000" stroke-width="1.85"/>
<line x1="619.38" x2="619.38" y1="502.9" y2="508.9" stroke="#000" stroke-width="1.85"/>
<line x1="633.25" x2="633.25" y1="502.9" y2="508.9" stroke="#000" stroke-width="1.85"/>
<line x1="647.12" x2="647.12" y1="502.9" y2="508.9" stroke="#000" stroke-width="1.85"/>
<line x1="661.00" x2="661.00" y1="502.9" y2="512.62" stroke="#000" stroke-width="2.22"/>
<text x="661.30" y="540.9" font-size="24.7" text-anchor="middle">2016</text>
<line x1="674.88" x2="674.88" y1="502.9" y2="508.9" stroke="#000" stroke-width="1.85"/>
<line x1="688.75" x2="688.75" y1="502.9" y2="508.9" stroke="#000" stroke-width="1.85"/>
<line x1="702.62" x2="702.62" y1="502.9" y2="508.9" stroke="#000" stroke-width="1.85"/>
<line x1="716.50" x2="716.50" y1="502.9" y2="508.9" stroke="#000" stroke-width="1.85"/>
<line x1="730.38" x2="730.38" y1="502.9" y2="508.9" stroke="#000" stroke-width="1.85"/>
<line x1="744.25" x2="744.25" y1="502.9" y2="508.9" stroke="#000" stroke-width="1.85"/>
<line x1="758.12" x2="758.12" y1="502.9" y2="508.9" stroke="#000" stroke-width="1.85"/>
<line x1="772.00" x2="772.00" y1="502.9" y2="512.62" stroke="#000" stroke-width="2.22"/>
<text x="772.30" y="540.9" font-size="24.7" text-anchor="middle">2020</text>
<line x1="785.88" x2="785.88" y1="502.9" y2="508.9" stroke="#000" stroke-width="1.85"/>
<line x1="799.75" x2="799.75" y1="502.9" y2="508.9" stroke="#000" stroke-width="1.85"/>
<line x1="813.62" x2="813.62" y1="502.9" y2="508.9" stroke="#000" stroke-width="1.85"/>
<line x1="827.50" x2="827.50" y1="502.9" y2="508.9" stroke="#000" stroke-width="1.85"/>
<line x1="841.38" x2="841.38" y1="502.9" y2="508.9" stroke="#000" stroke-width="1.85"/>
<line x1="855.25" x2="855.25" y1="502.9" y2="508.9" stroke="#000" stroke-width="1.85"/>
<line x1="869.12" x2="869.12" y1="502.9" y2="508.9" stroke="#000" stroke-width="1.85"/>
<line x1="883.00" x2="883.00" y1="502.9" y2="512.62" stroke="#000" stroke-width="2.22"/>
<text x="883.30" y="540.9" font-size="24.7" text-anchor="middle">2024</text>
<line x1="896.88" x2="896.88" y1="502.9" y2="508.9" stroke="#000" stroke-width="1.85"/>
<line x1="910.75" x2="910.75" y1="502.9" y2="508.9" stroke="#000" stroke-width="1.85"/>
<line x1="924.62" x2="924.62" y1="502.9" y2="508.9" stroke="#000" stroke-width="1.85"/>
<line x1="938.50" x2="938.50" y1="502.9" y2="508.9" stroke="#000" stroke-width="1.85"/>
<line x1="952.38" x2="952.38" y1="502.9" y2="508.9" stroke="#000" stroke-width="1.85"/>
<line x1="966.25" x2="966.25" y1="502.9" y2="508.9" stroke="#000" stroke-width="1.85"/>
<text x="539.9" y="575.9" font-size="25" text-anchor="middle">Year</text>
<text transform="translate(39.0 314.5) rotate(-90)" font-size="25" text-anchor="middle">MP Value (cm)</text>
<text transform="translate(954.9 134.3) rotate(90) scale(0.79 1)" font-size="23.4" text-anchor="start">Now</text>
<rect x="20.75" y="598.7" width="949.85" height="79.2" rx="4" ry="4" fill="#fff" stroke="#d6d6d6" stroke-width="2.8"/>
<path d="M-1 -2L0 -1L1 -2L2 -1L1 0L2 1L1 2L0 1L-1 2L-2 1L-1 0L-2 -1Z" transform="translate(43.6 618.4) scale(1.78)" fill="#ff2e22" stroke="#ff2e22" stroke-width="0.56"/>
<text x="57.6" y="625.9" font-size="25">C1C</text>
<path d="M-1 -2L0 -1L1 -2L2 -1L1 0L2 1L1 2L0 1L-1 2L-2 1L-1 0L-2 -1Z" transform="translate(43.6 654.7) scale(1.78)" fill="#ff5c5c" stroke="#ff5c5c" stroke-width="0.56"/>
<text x="57.6" y="663.0" font-size="25">C1L</text>
<path d="M-1 -2L0 -1L1 -2L2 -1L1 0L2 1L1 2L0 1L-1 2L-2 1L-1 0L-2 -1Z" transform="translate(187.4 618.4) scale(1.78)" fill="#ffdcdc" stroke="#ffdcdc" stroke-width="0.56"/>
<text x="202.6" y="625.9" font-size="25">C1Z</text>
<path d="M-1 -2L0 -1L1 -2L2 -1L1 0L2 1L1 2L0 1L-1 2L-2 1L-1 0L-2 -1Z" transform="translate(187.4 654.7) scale(1.78)" fill="#ff8c00" stroke="#ff8c00" stroke-width="0.56"/>
<text x="202.6" y="663.0" font-size="25">C2L</text>
<path d="M-1 -2L0 -1L1 -2L2 -1L1 0L2 1L1 2L0 1L-1 2L-2 1L-1 0L-2 -1Z" transform="translate(332.6 618.4) scale(1.78)" fill="#ff44ff" stroke="#ff44ff" stroke-width="0.56"/>
<text x="346.8" y="625.9" font-size="25">C5P</text>
<path d="M-1 -2L0 -1L1 -2L2 -1L1 0L2 1L1 2L0 1L-1 2L-2 1L-1 0L-2 -1Z" transform="translate(332.6 654.7) scale(1.78)" fill="#ff66ff" stroke="#ff66ff" stroke-width="0.56"/>
<text x="346.8" y="663.0" font-size="25">C5Q</text>
<circle cx="479.6" cy="618.4" r="4.25" fill="#8080c0"/>
<text x="494.9" y="625.9" font-size="25">RINEX2</text>
<circle cx="666.5" cy="618.4" r="4.25" fill="#660066"/>
<text x="680.8" y="625.9" font-size="25">RINEX3</text>
<circle cx="853.6" cy="618.4" r="4.25" fill="#200020"/>
<text x="867.6" y="625.9" font-size="25">RINEX4</text>
<text x="20.2" y="709.7" font-size="19.44" font-style="italic">Tue Mar 31 13:43:40 2026</text>
<text x="954.6" y="709.7" font-size="19.44" font-style="italic" text-anchor="end">©GNSS@ROB</text>
</svg></body></html>
